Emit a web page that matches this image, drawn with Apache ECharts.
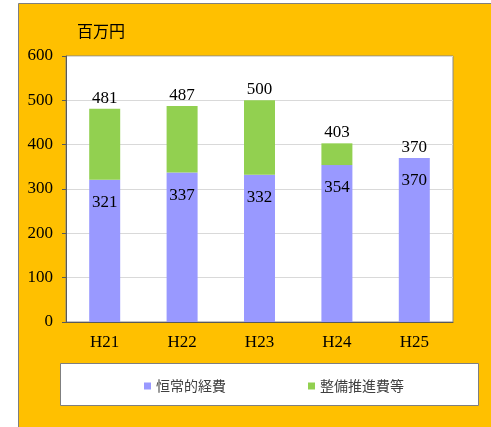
<!DOCTYPE html>
<html>
<head>
<meta charset="utf-8">
<script src="https://cdn.jsdelivr.net/npm/echarts@6/dist/echarts.min.js"></script>
<style>
  html, body { margin: 0; padding: 0; background: #fff; }
  #chart { width: 491px; height: 427px; }
</style>
</head>
<body>
<div id="chart"></div>
<script>
// 年度
const years = ['H21', 'H22', 'H23', 'H24', 'H25']
// 恒常的経費
const regularCost = [321, 337, 332, 354, 370]
// 整備推進費等
const promotionCost = [160, 150, 168, 49, 0]
// 合計 (上のラベル)
const totals = [481, 487, 500, 403, 370]

const serif = "'Liberation Serif', 'DejaVu Serif', 'Noto Sans CJK JP', serif"
const sans = "'Noto Sans CJK JP', sans-serif"

const chart = echarts.init(document.getElementById('chart'))

const option = {
  animation: false,
  backgroundColor: '#ffffff',
  graphic: [
    // 外枠 (オレンジ)
    {
      type: 'rect',
      z: -10,
      shape: { x: 18.5, y: 3.5, width: 480, height: 430 },
      style: { fill: '#FFC000', stroke: '#7f7f7f', lineWidth: 1 }
    },
    // 凡例の枠
    {
      type: 'rect',
      z: -5,
      shape: { x: 60.5, y: 363.5, width: 418, height: 42 },
      style: { fill: '#ffffff', stroke: '#7f7f7f', lineWidth: 1 }
    },
    {
      type: 'text',
      left: 77,
      top: 23,
      style: { text: '百万円', font: "16px 'Noto Sans CJK JP'", fill: '#000' }
    }
  ],
  grid: {
    left: 66,
    top: 56,
    right: 38,
    bottom: 105,
    show: true,
    backgroundColor: '#ffffff',
    borderColor: '#888888',
    borderWidth: 1
  },
  legend: {
    left: 139,
    top: 374,
    icon: 'rect',
    itemWidth: 7,
    itemHeight: 7,
    itemGap: 82,
    textStyle: { fontFamily: sans, fontSize: 14, color: '#404040' },
    data: ['恒常的経費', '整備推進費等']
  },
  xAxis: {
    type: 'category',
    data: years,
    axisLine: { lineStyle: { color: '#595959', width: 1 } },
    axisTick: { inside: true, length: 4, lineStyle: { color: '#595959' } },
    axisLabel: { fontFamily: serif, fontSize: 17, color: '#000', margin: 12 }
  },
  yAxis: {
    type: 'value',
    min: 0,
    max: 600,
    interval: 100,
    axisLine: { show: true, lineStyle: { color: '#595959', width: 1 } },
    axisTick: { show: true, length: 4, lineStyle: { color: '#595959' } },
    axisLabel: { fontFamily: serif, fontSize: 17, color: '#000', margin: 13 },
    splitLine: { lineStyle: { color: '#d9d9d9' } }
  },
  series: [
    {
      name: '恒常的経費',
      type: 'bar',
      stack: 'total',
      barWidth: 31,
      data: regularCost,
      itemStyle: { color: '#9999FF' },
      label: {
        show: true,
        position: 'insideTop',
        distance: 14,
        fontFamily: serif,
        fontSize: 17,
        color: '#000'
      }
    },
    {
      name: '整備推進費等',
      type: 'bar',
      stack: 'total',
      barWidth: 31,
      data: promotionCost,
      itemStyle: { color: '#92D050' },
      label: {
        show: true,
        position: 'top',
        distance: 2,
        fontFamily: serif,
        fontSize: 17,
        color: '#000',
        formatter: (p) => String(totals[p.dataIndex])
      }
    }
  ]
}

chart.setOption(option)
</script>
</body>
</html>
